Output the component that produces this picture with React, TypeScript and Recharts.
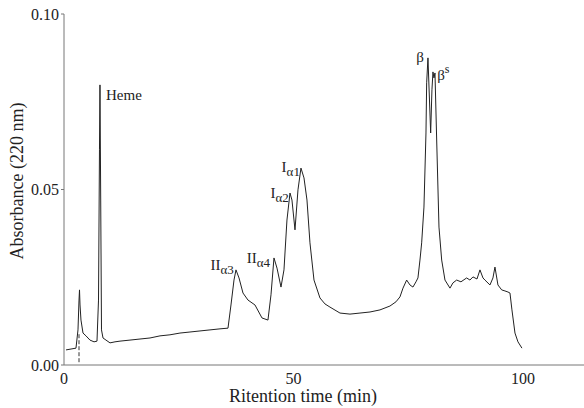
import React from "react";
import { LineChart, Line, XAxis, YAxis, ReferenceDot, ReferenceLine } from "recharts";

// retention time (min) and absorbance (220 nm)
const times = [
  0.44, 1.74, 2.61, 3.05, 3.27, 3.38, 3.49, 3.7, 4.14, 4.79, 5.66, 6.54, 7.19, 7.52, 7.73, 7.84, 8.0, 8.17,
  8.5, 9.15, 10.02, 11.11, 12.2, 14.38, 16.56, 18.74, 20.92, 23.09, 25.27, 27.45, 29.63, 31.81, 33.99, 35.73,
  36.38, 37.04, 37.47, 38.13, 39.0, 40.09, 41.61, 43.14, 44.44, 45.1, 45.75, 46.41, 47.28, 47.93, 48.58, 49.24,
  49.67, 50.33, 50.98, 51.63, 52.29, 52.94, 53.59, 54.47, 55.77, 56.86, 57.95, 60.13, 62.31, 64.49, 66.67,
  68.85, 71.02, 72.33, 73.2, 73.86, 74.66, 75.38, 76.03, 76.69, 77.12, 77.56, 77.93, 78.43, 78.87, 79.02,
  79.3, 79.63, 79.89, 80.17, 80.39, 80.61, 80.83, 81.2, 81.7, 82.29, 83.01, 84.1, 84.75, 85.56, 86.49, 87.73,
  88.45, 89.11, 89.98, 90.63, 91.29, 91.72, 92.81, 93.46, 93.9, 94.55, 95.36, 96.08, 96.73, 97.17, 97.6,
  98.26, 98.91, 99.78,
];

const absorbance = [
  0.0043, 0.0046, 0.0048, 0.01, 0.0185, 0.0214, 0.0171, 0.0128, 0.0091, 0.0083, 0.0071, 0.0066, 0.0068, 0.0185,
  0.0613, 0.0798, 0.047, 0.01, 0.0077, 0.0071, 0.0063, 0.0066, 0.0068, 0.0071, 0.0074, 0.0077, 0.0083, 0.0086,
  0.0091, 0.0094, 0.0097, 0.01, 0.0103, 0.0105, 0.0171, 0.0242, 0.0271, 0.0248, 0.0205, 0.0185, 0.0171, 0.0134,
  0.0128, 0.02, 0.0305, 0.0276, 0.0222, 0.0271, 0.0413, 0.049, 0.047, 0.0385, 0.0499, 0.0561, 0.0533, 0.047,
  0.0348, 0.0242, 0.0191, 0.0174, 0.0165, 0.0148, 0.0145, 0.0148, 0.0151, 0.0157, 0.0168, 0.018, 0.0194,
  0.0219, 0.0242, 0.0228, 0.0222, 0.0237, 0.0248, 0.0299, 0.0348, 0.045, 0.0661, 0.0804, 0.0875, 0.0755,
  0.0661, 0.0784, 0.0835, 0.0818, 0.0832, 0.0641, 0.0393, 0.0299, 0.0242, 0.0219, 0.0234, 0.0242, 0.0237,
  0.0248, 0.0242, 0.0251, 0.0245, 0.0271, 0.0248, 0.0242, 0.0228, 0.0248, 0.0279, 0.0228, 0.0214, 0.0211,
  0.0208, 0.0205, 0.0157, 0.0091, 0.0066, 0.0048,
];

const xTicks = [0, 50, 100];
const yTicks = [0, 0.05, 0.1];

// peak labels
const peakNames = ["Heme", "II", "II", "I", "I", "β", "β"];
const peakSubs = ["", "α3", "α4", "α2", "α1", "", ""];
const peakSups = ["", "", "", "", "", "", "s"];
const peakTimes = [9.15, 37.0, 44.9, 49.0, 51.4, 78.4, 81.3];
const peakValues = [0.0755, 0.027, 0.0291, 0.0476, 0.055, 0.0864, 0.0812];
const peakAnchors = ["start", "end", "end", "end", "end", "end", "start"];

const data = times.map((t, i) => ({ t, a: absorbance[i] }));

const font = "Liberation Serif";
const ink = "#222";

const PeakLabel = (props: any) => {
  const { viewBox, idx } = props;
  const x = viewBox?.x ?? 0;
  const y = viewBox?.y ?? 0;
  return (
    <text x={x} y={y} textAnchor={peakAnchors[idx]} fontFamily={font} fontSize={15} fill={ink}>
      {peakNames[idx]}
      {peakSubs[idx] && (
        <tspan fontSize={13} dy={4} fill={ink}>
          {peakSubs[idx]}
        </tspan>
      )}
      {peakSups[idx] && (
        <tspan fontSize={12} dy={-7} fill={ink}>
          {peakSups[idx]}
        </tspan>
      )}
    </text>
  );
};

export default function App() {
  return (
    <div style={{ position: "absolute", left: 0, top: 0, background: "#fff", fontFamily: font }}>
      <LineChart
        width={584}
        height={408}
        data={data}
        margin={{ top: 14, right: 0, left: 0, bottom: 0 }}
        style={{ fontFamily: font }}
      >
        <XAxis
          dataKey="t"
          type="number"
          domain={[0, 113.3]}
          ticks={xTicks}
          tickFormatter={(v: number) => String(v)}
          stroke="#777"
          tickLine={false}
          height={43}
          tick={{ fontFamily: font, fontSize: 16, fill: ink }}
          tickMargin={2}
          label={() => (
            <text x={303} y={402} textAnchor="middle" fontFamily={font} fontSize={18} fill={ink}>
              Ritention time (min)
            </text>
          )}
        />
        <YAxis
          type="number"
          domain={[0, 0.1]}
          ticks={yTicks}
          tickFormatter={(v: number) => v.toFixed(2)}
          stroke="#777"
          width={64}
          tickSize={3}
          tick={{ fontFamily: font, fontSize: 16, fill: ink }}
          label={() => (
            <text
              x={0}
              y={0}
              transform="translate(23,181) rotate(-90)"
              textAnchor="middle"
              fontFamily={font}
              fontSize={18}
              fill={ink}
            >
              Absorbance (220 nm)
            </text>
          )}
        />
        <ReferenceLine
          segment={[
            { x: 3.27, y: 0.0008 },
            { x: 3.27, y: 0.009 },
          ]}
          stroke="#333"
          strokeDasharray="4 2"
        />
        <Line
          dataKey="a"
          stroke={ink}
          strokeWidth={1}
          dot={false}
          type="linear"
          isAnimationActive={false}
        />
        {peakTimes.map((t, i) => (
          <ReferenceDot
            key={i}
            x={t}
            y={peakValues[i]}
            r={0}
            stroke="none"
            fill="none"
            label={<PeakLabel idx={i} />}
          />
        ))}
      </LineChart>
    </div>
  );
}
